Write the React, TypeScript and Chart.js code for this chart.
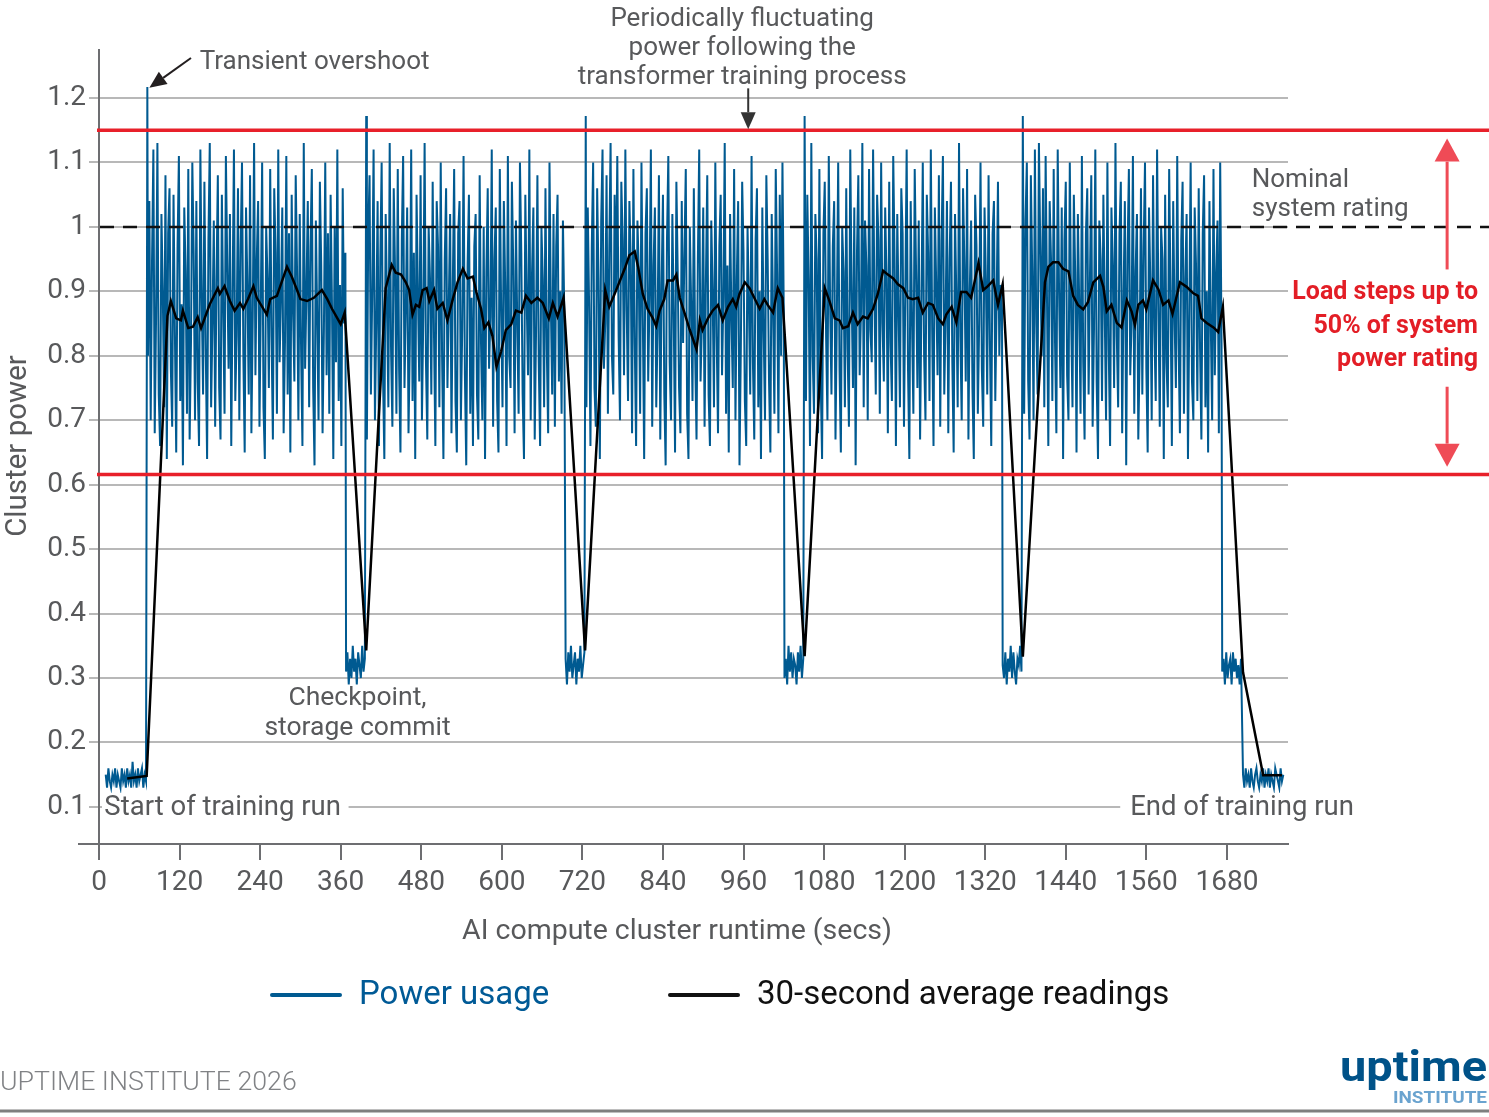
import React, { useEffect, useRef } from "react";
import { Chart, registerables } from "chart.js";
Chart.register(...registerables);

// ---------- tick labels ----------
const xTicks = [0, 120, 240, 360, 480, 600, 720, 840, 960, 1080, 1200, 1320, 1440, 1560, 1680];
const yTicks = [0.1, 0.2, 0.3, 0.4, 0.5, 0.6, 0.7, 0.8, 0.9, 1.0, 1.1, 1.2];
const yTickLabels = ["0.1", "0.2", "0.3", "0.4", "0.5", "0.6", "0.7", "0.8", "0.9", "1", "1.1", "1.2"];

// ---------- reference levels ----------
const nominalRating = 1.0;
const upperStep = 1.15;
const lowerStep = 0.616;

// ---------- power usage (blue), segments ----------
const idleStart = [0.15, 0.13, 0.16, 0.14, 0.13, 0.15, 0.14, 0.16, 0.13, 0.15, 0.14, 0.13, 0.16, 0.14, 0.15, 0.13, 0.16, 0.14, 0.15, 0.13, 0.17, 0.14, 0.15, 0.13, 0.16, 0.14, 0.15, 0.16, 0.13, 0.15, 0.14];
const overshootPeak = [1.217];
const restartPeak = [1.172];
const block1 = [
  0.80, 1.04, 0.70, 0.95, 1.12, 0.68, 0.86, 1.13, 0.74, 0.66,
  1.02, 0.90, 0.72, 1.08, 0.64, 0.99, 1.06, 0.78, 0.69, 1.05,
  0.84, 0.65, 0.97, 1.11, 0.73, 0.88, 0.63, 1.03, 0.93, 0.71,
  1.09, 0.67, 0.82, 1.10, 0.96, 0.70, 1.04, 0.76, 0.66, 1.12,
  0.89, 0.74, 1.07, 0.81, 0.64, 0.98, 1.13, 0.72, 0.85, 1.01,
  0.69, 0.92, 1.08, 0.75, 0.67, 1.05, 0.87, 0.71, 1.11, 0.94,
  0.78, 1.02, 0.66, 0.90, 1.12, 0.73, 0.83, 1.06, 0.70, 0.97,
  1.10, 0.80, 0.65, 1.03, 0.91, 0.74, 1.08, 0.68, 0.86, 1.13,
  0.77, 0.95, 1.04, 0.69, 0.88, 1.10, 0.72, 0.64, 1.00, 0.92,
  0.75, 1.09, 0.83, 0.67, 1.06, 0.96, 0.71, 1.12, 0.79, 0.89,
  1.03, 0.68, 0.82, 1.11, 0.74, 0.99, 0.65, 1.05, 0.87, 0.76,
  1.08, 0.93, 0.70, 1.02, 0.81, 0.66, 1.13, 0.78, 0.90, 1.04,
  0.72, 0.97, 1.09, 0.75, 0.63, 1.01, 0.86, 0.70, 1.07, 0.94,
  0.68, 0.84, 1.10, 0.77, 0.99, 0.71, 1.05, 0.88, 0.64, 1.00,
  0.79, 1.12, 0.73, 0.91, 0.66, 1.06, 0.85, 0.96,
];
const low1 = [0.31, 0.34, 0.29, 0.33, 0.30, 0.35, 0.31, 0.33, 0.29, 0.34, 0.32, 0.30, 0.35, 0.31, 0.33];
const block2 = [
  0.67, 0.99, 1.08, 0.74, 0.90, 1.12, 0.70, 0.85, 1.04, 0.66,
  0.95, 1.10, 0.77, 0.64, 1.02, 0.88, 0.72, 1.13, 0.81, 0.69,
  1.06, 0.93, 0.71, 1.09, 0.78, 0.65, 0.98, 1.11, 0.75, 0.87,
  1.03, 0.68, 0.82, 1.12, 0.73, 0.96, 0.64, 1.05, 0.90, 0.76,
  1.08, 0.70, 0.86, 1.13, 0.79, 0.67, 1.00, 0.92, 0.74, 1.07,
  0.83, 0.66, 1.04, 0.97, 0.72, 1.10, 0.80, 0.64, 0.95, 1.06,
  0.75, 0.88, 1.02, 0.68, 0.91, 1.09, 0.73, 0.65, 0.99, 1.04,
  0.70, 0.84, 1.11, 0.77, 0.63, 0.94, 1.05, 0.71, 0.89, 0.66,
  0.97, 1.02, 0.74, 0.67, 1.08, 0.82, 0.70, 1.00, 0.64, 0.93,
  1.06, 0.78, 0.86, 1.12, 0.69, 0.95, 1.03, 0.73, 0.65, 1.09,
  0.87, 0.72, 1.04, 0.91, 0.66, 1.11, 0.80, 0.75, 1.07, 0.94,
  0.68, 1.01, 0.85, 0.71, 1.10, 0.96, 0.74, 0.64, 1.05, 0.89,
  0.77, 1.12, 0.70, 0.93, 1.03, 0.67, 0.84, 1.08, 0.79, 0.66,
  1.00, 0.92, 0.72, 1.06, 0.81, 0.68, 1.10, 0.88, 0.74, 1.02,
  0.69, 0.97, 1.05, 0.76, 0.90, 0.71, 1.01, 0.87,
];
const low2 = [0.33, 0.29, 0.34, 0.31, 0.35, 0.30, 0.32, 0.34, 0.29, 0.33, 0.31, 0.35, 0.30, 0.32, 0.34];
const block3 = [
  0.72, 1.03, 0.88, 0.66, 0.97, 1.10, 0.75, 0.69, 1.06, 0.92,
  0.64, 1.01, 1.12, 0.78, 0.85, 1.08, 0.71, 0.96, 1.13, 0.80,
  0.74, 1.05, 0.90, 1.11, 0.83, 0.70, 1.07, 0.98, 0.77, 1.12,
  0.87, 0.73, 1.04, 0.95, 0.68, 1.09, 0.82, 0.66, 1.01, 0.93,
  0.71, 1.10, 0.86, 0.64, 0.99, 1.06, 0.76, 0.89, 1.12, 0.69,
  0.94, 1.03, 0.72, 0.84, 1.08, 0.67, 0.91, 1.05, 0.74, 0.63,
  0.98, 1.11, 0.79, 0.70, 1.02, 0.87, 0.65, 1.07, 0.93, 0.75,
  0.68, 1.04, 0.82, 0.96, 1.09, 0.71, 0.64, 1.00, 0.88, 0.73,
  1.06, 0.80, 0.67, 0.95, 1.12, 0.76, 0.85, 1.03, 0.69, 0.92,
  1.08, 0.74, 0.66, 1.01, 0.90, 0.72, 1.10, 0.83, 0.68, 0.97,
  1.05, 0.77, 0.89, 1.13, 0.71, 0.94, 0.65, 1.02, 0.86, 0.75,
  1.09, 0.70, 0.92, 1.04, 0.63, 0.81, 1.07, 0.96, 0.73, 0.66,
  1.00, 0.88, 0.74, 1.11, 0.79, 0.67, 0.98, 1.06, 0.72, 0.90,
  0.64, 1.03, 0.84, 0.70, 1.08, 0.95, 0.76, 0.65, 1.02, 0.87,
  0.71, 1.09, 0.93, 0.68, 1.05, 0.80, 1.10, 0.86,
];
const low3 = [0.30, 0.33, 0.29, 0.35, 0.31, 0.34, 0.30, 0.33, 0.32, 0.29, 0.34, 0.31, 0.35, 0.30, 0.33];
const block4 = [
  0.73, 1.05, 0.92, 0.66, 1.13, 0.80, 0.71, 1.02, 0.95, 0.68,
  1.09, 0.76, 0.64, 0.99, 1.07, 0.83, 0.70, 1.11, 0.88, 0.74,
  0.97, 1.04, 0.67, 0.86, 1.10, 0.78, 0.65, 1.00, 0.93, 0.72,
  1.06, 0.81, 0.69, 1.12, 0.90, 0.75, 1.03, 0.63, 0.96, 1.08,
  0.77, 0.87, 1.13, 0.72, 1.01, 0.94, 0.70, 1.09, 0.84, 0.79,
  1.12, 0.89, 0.74, 1.05, 0.98, 0.71, 1.10, 0.85, 0.76, 1.03,
  0.92, 0.68, 1.07, 0.82, 0.73, 1.11, 0.95, 0.66, 1.02, 0.87,
  0.72, 1.06, 0.99, 0.69, 0.90, 1.12, 0.78, 0.64, 1.04, 0.85,
  0.71, 1.09, 0.93, 0.75, 1.01, 0.67, 0.88, 1.10, 0.80, 0.70,
  1.05, 0.96, 0.73, 1.12, 0.84, 0.66, 1.03, 0.91, 0.77, 1.08,
  0.69, 0.98, 1.11, 0.74, 0.86, 1.04, 0.68, 0.95, 1.07, 0.79,
  0.65, 1.02, 0.89, 0.72, 1.13, 0.83, 0.70, 1.06, 0.94, 0.76,
  1.09, 0.67, 0.90, 1.01, 0.75, 0.64, 1.05, 0.97, 0.71, 0.85,
  1.10, 0.78, 0.69, 1.03, 0.92, 0.74, 1.08, 0.82, 0.66, 0.99,
  1.04, 0.73, 0.88, 1.07, 0.80, 0.91, 0.87,
];
const low4 = [0.32, 0.30, 0.34, 0.29, 0.33, 0.31, 0.35, 0.30, 0.34, 0.31, 0.29, 0.33, 0.32, 0.35, 0.31];
const block5 = [
  0.71, 1.01, 1.10, 0.76, 0.67, 1.08, 0.93, 0.70, 1.12, 0.85,
  0.74, 1.13, 0.97, 0.80, 1.06, 0.72, 1.11, 0.89, 0.66, 1.04,
  0.95, 0.73, 1.09, 0.82, 0.68, 1.12, 0.90, 0.75, 1.03, 0.64,
  0.98, 1.07, 0.77, 0.70, 1.10, 0.86, 0.72, 1.05, 0.93, 0.65,
  1.02, 0.88, 0.71, 1.11, 0.79, 0.67, 0.99, 1.06, 0.74, 0.92,
  1.08, 0.69, 0.84, 1.12, 0.76, 0.64, 1.01, 0.95, 0.73, 1.05,
  0.87, 0.70, 1.10, 0.81, 0.66, 1.03, 0.94, 0.75, 1.13, 0.83,
  0.72, 0.99, 1.07, 0.68, 0.89, 1.04, 0.63, 0.96, 1.09, 0.77,
  0.85, 1.11, 0.71, 0.93, 1.02, 0.67, 0.80, 1.06, 0.74, 0.97,
  1.10, 0.78, 0.65, 1.03, 0.91, 0.70, 1.08, 0.84, 0.73, 1.12,
  0.88, 0.69, 1.00, 0.95, 0.64, 1.05, 0.79, 0.72, 1.09, 0.90,
  0.66, 1.04, 0.86, 0.75, 1.11, 0.82, 0.68, 0.98, 1.07, 0.71,
  0.92, 1.02, 0.64, 0.87, 1.10, 0.76, 0.70, 1.03, 0.94, 0.73,
  1.06, 0.81, 0.67, 0.99, 1.08, 0.72, 0.90, 0.65, 1.04, 0.85,
  0.70, 1.09, 0.77, 0.93, 1.01, 0.68, 1.10, 0.82,
];
const low5 = [0.31, 0.33, 0.29, 0.34, 0.30, 0.32, 0.33, 0.29, 0.34, 0.31, 0.33, 0.30, 0.32, 0.29, 0.33];
const idleEnd = [0.15, 0.13, 0.16, 0.14, 0.15, 0.13, 0.16, 0.14, 0.13, 0.15, 0.16, 0.14, 0.13, 0.15, 0.14, 0.16, 0.13, 0.15, 0.14, 0.16, 0.13, 0.15, 0.14, 0.13, 0.16, 0.15, 0.14, 0.13, 0.16, 0.14, 0.15];

// [start second, sampling step in seconds, readings]
const blueSegments: [number, number, number[]][] = [
  [10, 2, idleStart],
  [72, 1, overshootPeak],
  [73, 2, block1],
  [368, 2, low1],
  [398, 1, restartPeak],
  [399, 2, block2],
  [695, 2, low2],
  [725, 1, restartPeak],
  [726, 2, block3],
  [1021, 2, low3],
  [1051, 1, restartPeak],
  [1053, 2, block4],
  [1346, 2, low4],
  [1376, 1, restartPeak],
  [1378, 2, block5],
  [1673, 2, low5],
  [1704, 2, idleEnd],
];

// ---------- 30-second average (black), [second, value] ----------
const avgRun1: [number, number][] = [
  [42, 0.144], [71, 0.148], [102, 0.862], [107, 0.885], [115, 0.858], [122, 0.855], [125, 0.87], [133, 0.843],
  [140, 0.845], [147, 0.86], [152, 0.843], [165, 0.88], [177, 0.905], [180, 0.896], [187, 0.908], [195, 0.885],
  [202, 0.87], [210, 0.882], [215, 0.873], [222, 0.888], [230, 0.908], [235, 0.89], [250, 0.864], [255, 0.888],
  [265, 0.893], [270, 0.908], [280, 0.938], [287, 0.923], [295, 0.902], [300, 0.888], [310, 0.885], [320, 0.89],
  [332, 0.902], [340, 0.888], [347, 0.873], [360, 0.849], [366, 0.867],
];
const avgRun2: [number, number][] = [
  [398, 0.343], [427, 0.905], [436, 0.941], [442, 0.929], [450, 0.926], [457, 0.914], [462, 0.902], [467, 0.864],
  [472, 0.879], [477, 0.876], [482, 0.902], [488, 0.905], [492, 0.885], [499, 0.902], [504, 0.873], [512, 0.882],
  [519, 0.855], [527, 0.888], [534, 0.914], [542, 0.935], [549, 0.92], [557, 0.923], [562, 0.899], [569, 0.873],
  [574, 0.843], [580, 0.852], [586, 0.831], [592, 0.783], [599, 0.807], [606, 0.84], [614, 0.849], [621, 0.87],
  [629, 0.867], [636, 0.893], [644, 0.882], [653, 0.89], [661, 0.882], [670, 0.858], [676, 0.882], [683, 0.861],
  [692, 0.89],
];
const avgRun3: [number, number][] = [
  [724, 0.343], [754, 0.902], [760, 0.876], [768, 0.896], [775, 0.914], [783, 0.935], [790, 0.956], [798, 0.962],
  [803, 0.938], [810, 0.896], [817, 0.873], [825, 0.858], [830, 0.846], [835, 0.87], [842, 0.888], [847, 0.917],
  [855, 0.917], [860, 0.926], [865, 0.89], [872, 0.867], [880, 0.84], [890, 0.81], [895, 0.855], [899, 0.84],
  [907, 0.858], [914, 0.87], [922, 0.879], [929, 0.855], [937, 0.876], [944, 0.888], [949, 0.876], [954, 0.896],
  [962, 0.914], [969, 0.905], [976, 0.89], [984, 0.873], [991, 0.888], [996, 0.879], [1004, 0.867], [1011, 0.905],
  [1018, 0.89],
];
const avgRun4: [number, number][] = [
  [1051, 0.334], [1081, 0.905], [1088, 0.885], [1096, 0.858], [1103, 0.855], [1108, 0.843], [1116, 0.846],
  [1123, 0.867], [1130, 0.849], [1138, 0.861], [1145, 0.858], [1153, 0.873], [1160, 0.896], [1168, 0.932],
  [1175, 0.926], [1183, 0.92], [1190, 0.911], [1198, 0.905], [1205, 0.89], [1212, 0.888], [1220, 0.89],
  [1227, 0.867], [1235, 0.882], [1242, 0.879], [1250, 0.858], [1257, 0.849], [1262, 0.864], [1270, 0.876],
  [1277, 0.852], [1284, 0.899], [1292, 0.899], [1299, 0.89], [1304, 0.914], [1310, 0.944], [1317, 0.902],
  [1324, 0.908], [1332, 0.917], [1339, 0.879], [1346, 0.911],
];
const avgRun5: [number, number][] = [
  [1376, 0.333], [1409, 0.914], [1414, 0.938], [1421, 0.945], [1429, 0.945], [1436, 0.935], [1444, 0.931],
  [1451, 0.893], [1458, 0.879], [1466, 0.872], [1473, 0.883], [1481, 0.914], [1491, 0.924], [1496, 0.907],
  [1501, 0.869], [1508, 0.879], [1516, 0.851], [1523, 0.844], [1531, 0.886], [1538, 0.869], [1543, 0.848],
  [1548, 0.879], [1555, 0.886], [1560, 0.872], [1570, 0.917], [1578, 0.903], [1585, 0.879], [1593, 0.886],
  [1599, 0.865], [1610, 0.914], [1620, 0.907], [1630, 0.897], [1637, 0.893], [1642, 0.858], [1650, 0.851],
  [1660, 0.844], [1667, 0.837], [1674, 0.876],
];
const avgWindDown: [number, number][] = [[1704, 0.309], [1734, 0.149], [1762, 0.149]];

// ---------- styling ----------
const FONT = "Roboto";
const BLUE = "#005a91";
const RED = "#e8202a";
const RED_ARROW = "#ef4b56";
const GRID = "#b8b8b8";
const AXIS = "#6d6e71";
const TEXT = "#58595b";

const bluePoints = blueSegments.flatMap(([start, step, vals]) =>
  vals.map((v, i) => ({ x: start + i * step, y: v }))
);
const avgPoints = [...avgRun1, ...avgRun2, ...avgRun3, ...avgRun4, ...avgRun5, ...avgWindDown].map(([x, y]) => ({ x, y }));

function arrow(ctx: CanvasRenderingContext2D, x1: number, y1: number, x2: number, y2: number, color: string, w: number, hl: number, hw: number) {
  const a = Math.atan2(y2 - y1, x2 - x1);
  const bx = x2 - hl * Math.cos(a);
  const by = y2 - hl * Math.sin(a);
  ctx.save();
  ctx.strokeStyle = color;
  ctx.fillStyle = color;
  ctx.lineWidth = w;
  ctx.beginPath();
  ctx.moveTo(x1, y1);
  ctx.lineTo(bx, by);
  ctx.stroke();
  ctx.beginPath();
  ctx.moveTo(x2, y2);
  ctx.lineTo(bx + (hw / 2) * Math.sin(a), by - (hw / 2) * Math.cos(a));
  ctx.lineTo(bx - (hw / 2) * Math.sin(a), by + (hw / 2) * Math.cos(a));
  ctx.closePath();
  ctx.fill();
  ctx.restore();
}

const decorPlugin = {
  id: "decor",
  afterDatasetsDraw(chart: any) {
    const ctx: CanvasRenderingContext2D = chart.ctx;
    const xs = chart.scales.x;
    const ys = chart.scales.y;
    const ca = chart.chartArea;
    const W = chart.width;
    const px = (t: number) => xs.getPixelForValue(t);
    const py = (v: number) => ys.getPixelForValue(v);

    ctx.save();
    // x-axis extension left of the origin
    ctx.strokeStyle = AXIS;
    ctx.lineWidth = 2;
    ctx.beginPath();
    ctx.moveTo(78, ca.bottom);
    ctx.lineTo(ca.left, ca.bottom);
    ctx.stroke();

    // nominal rating (dashed)
    ctx.strokeStyle = "#111";
    ctx.lineWidth = 2.5;
    ctx.setLineDash([14, 9]);
    ctx.beginPath();
    ctx.moveTo(ca.left + 1, py(nominalRating));
    ctx.lineTo(W, py(nominalRating));
    ctx.stroke();
    ctx.setLineDash([]);

    // red step lines
    ctx.strokeStyle = RED;
    ctx.lineWidth = 3.5;
    for (const v of [upperStep, lowerStep]) {
      ctx.beginPath();
      ctx.moveTo(ca.left - 2, py(v));
      ctx.lineTo(W, py(v));
      ctx.stroke();
    }

    // callout texts
    ctx.fillStyle = TEXT;
    ctx.textBaseline = "middle";
    ctx.font = `26px ${FONT}`;
    ctx.textAlign = "left";
    ctx.fillText("Transient overshoot", px(150), py(1.2552));
    arrow(ctx, px(137), py(1.262), px(75), py(1.216), "#231f20", 2, 17, 15);

    ctx.textAlign = "center";
    ctx.fillText("Periodically fluctuating", px(958), py(1.322));
    ctx.fillText("power following the", px(958), py(1.277));
    ctx.fillText("transformer training process", px(958), py(1.232));
    arrow(ctx, px(967), py(1.215), px(967), py(upperStep) - 1, "#333", 2, 17, 15);

    ctx.textAlign = "left";
    ctx.fillText("Nominal", px(1717), py(1.072));
    ctx.fillText("system rating", px(1717), py(1.027));

    ctx.textAlign = "center";
    ctx.font = `26.5px ${FONT}`;
    ctx.fillText("Checkpoint,", px(385), py(0.2677));
    ctx.fillText("storage commit", px(385), py(0.2226));

    // start / end labels on the 0.1 gridline
    ctx.font = `27.5px ${FONT}`;
    ctx.textAlign = "left";
    const sY = py(0.1);
    const startLbl = "Start of training run";
    const endLbl = "End of training run";
    const sw = ctx.measureText(startLbl).width;
    const ew = ctx.measureText(endLbl).width;
    ctx.fillStyle = "#fff";
    ctx.fillRect(ca.left + 3, sY - 14, sw + 10, 28);
    ctx.fillRect(px(1533) - 8, sY - 14, ew + 12, 28);
    ctx.fillStyle = TEXT;
    ctx.fillText(startLbl, px(8), sY + 1);
    ctx.fillText(endLbl, px(1536), sY + 1);

    // red load-step callout
    arrow(ctx, px(2008), py(0.934), px(2008), py(1.137), RED_ARROW, 3, 23, 25);
    arrow(ctx, px(2008), py(0.752), px(2008), py(0.628), RED_ARROW, 3, 23, 25);
    ctx.fillStyle = "#e31e26";
    ctx.textAlign = "right";
    ctx.font = `bold 25px ${FONT}`;
    ctx.fillText("Load steps up to", px(2054), py(0.898));
    ctx.fillText("50% of system", px(2054), py(0.845));
    ctx.fillText("power rating", px(2054), py(0.794));

    // axis titles
    ctx.fillStyle = TEXT;
    ctx.font = `28.5px ${FONT}`;
    ctx.textAlign = "center";
    ctx.fillText("AI compute cluster runtime (secs)", 677, 932);
    ctx.save();
    ctx.translate(19, 446);
    ctx.rotate(-Math.PI / 2);
    ctx.font = `29.5px ${FONT}`;
    ctx.fillText("Cluster power", 0, 0);
    ctx.restore();

    // legend
    ctx.lineCap = "round";
    ctx.lineWidth = 4;
    ctx.strokeStyle = BLUE;
    ctx.beginPath();
    ctx.moveTo(272, 995);
    ctx.lineTo(340, 995);
    ctx.stroke();
    ctx.strokeStyle = "#111";
    ctx.beginPath();
    ctx.moveTo(670, 995);
    ctx.lineTo(738, 995);
    ctx.stroke();
    ctx.lineCap = "butt";
    ctx.font = `33px ${FONT}`;
    ctx.textAlign = "left";
    ctx.fillStyle = "#005a96";
    ctx.fillText("Power usage", 359, 996);
    ctx.fillStyle = "#111";
    ctx.fillText("30-second average readings", 757, 996);

    // footer
    ctx.fillStyle = "#808285";
    ctx.font = `300 26.7px ${FONT}`;
    ctx.fillText("UPTIME INSTITUTE 2026", 0, 1083);
    ctx.strokeStyle = "#7f7f7f";
    ctx.lineWidth = 3;
    ctx.beginPath();
    ctx.moveTo(0, 1111);
    ctx.lineTo(W, 1111);
    ctx.stroke();

    // logo
    ctx.textBaseline = "alphabetic";
    ctx.font = `bold 42px ${FONT}`;
    const lw = ctx.measureText("uptime").width;
    ctx.save();
    ctx.translate(1487, 1081);
    ctx.scale(147 / lw, 1);
    ctx.fillStyle = "#005288";
    ctx.textAlign = "right";
    ctx.fillText("uptime", 0, 0);
    ctx.restore();
    ctx.font = `bold 17px ${FONT}`;
    const iw = ctx.measureText("INSTITUTE").width;
    ctx.save();
    ctx.translate(1487, 1103);
    ctx.scale(94 / iw, 1);
    ctx.fillStyle = "#6aa3cf";
    ctx.textAlign = "right";
    ctx.fillText("INSTITUTE", 0, 0);
    ctx.restore();

    ctx.restore();
  },
};

export default function App() {
  const ref = useRef<HTMLCanvasElement>(null);
  useEffect(() => {
    document.body.style.margin = "0";
    const canvas = ref.current!;
    const chart = new Chart(canvas, {
      type: "line",
      data: {
        datasets: [
          { label: "Power usage", data: bluePoints, borderColor: BLUE, borderWidth: 2, pointRadius: 0, tension: 0, order: 2 },
          { label: "30-second average readings", data: avgPoints, borderColor: "#000", borderWidth: 2.5, pointRadius: 0, tension: 0, order: 1 },
        ],
      },
      options: {
        responsive: false,
        animation: false,
        devicePixelRatio: 1,
        layout: { padding: { left: 0, right: 201, top: 50, bottom: 213 } },
        plugins: { legend: { display: false }, tooltip: { enabled: false } },
        scales: {
          x: {
            type: "linear",
            min: 0,
            max: 1771,
            afterBuildTicks: (s: any) => { s.ticks = xTicks.map((v) => ({ value: v })); },
            afterFit: (s: any) => { s.height = 60; },
            grid: { display: true, drawOnChartArea: false, drawTicks: true, tickLength: 16, color: AXIS, lineWidth: 2 },
            border: { display: true, color: AXIS, width: 2 },
            ticks: { font: { family: FONT, size: 28 }, color: TEXT, padding: 6, maxRotation: 0, autoSkip: false, callback: (v: any) => String(v) },
          },
          y: {
            type: "linear",
            min: 0.0425,
            max: 1.2745,
            afterBuildTicks: (s: any) => { s.ticks = yTicks.map((v) => ({ value: v })); },
            afterFit: (s: any) => { s.width = 99; },
            grid: { color: GRID, lineWidth: 2, tickLength: 10, drawTicks: true },
            border: { display: true, color: AXIS, width: 2 },
            ticks: {
              font: { family: FONT, size: 28 },
              color: TEXT,
              padding: 3,
              autoSkip: false,
              callback: (v: any) => {
                const i = yTicks.findIndex((t) => Math.abs(t - v) < 1e-6);
                return i >= 0 ? yTickLabels[i] : "";
              },
            },
          },
        },
      } as any,
      plugins: [decorPlugin],
    });
    return () => chart.destroy();
  }, []);
  return (
    <div style={{ width: 1489, height: 1117, background: "#fff" }}>
      <canvas ref={ref} width={1489} height={1117} style={{ display: "block" }} />
    </div>
  );
}
